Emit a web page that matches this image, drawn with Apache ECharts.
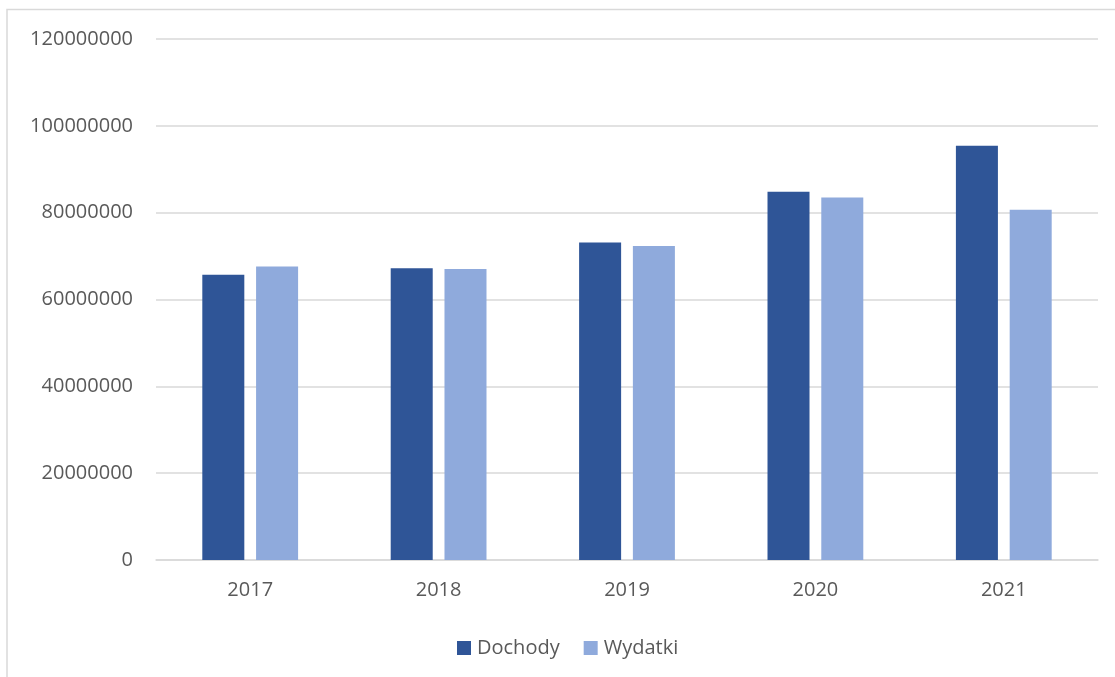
<!DOCTYPE html>
<html>
<head>
<meta charset="utf-8">
<script src="https://cdn.jsdelivr.net/npm/echarts@6/dist/echarts.min.js"></script>
<style>
html,body{margin:0;padding:0;background:#fff;}
#chart{width:1115px;height:677px;}
</style>
</head>
<body>
<div id="chart"></div>
<script>
const categories = ['2017', '2018', '2019', '2020', '2021'];
const dochody = [65700000, 67200000, 73100000, 84800000, 95400000];
const wydatki = [67600000, 67000000, 72300000, 83500000, 80700000];
const seriesNames = ['Dochody', 'Wydatki'];

const font = 'Open Sans';
const txt = '#595959';
const chart = echarts.init(document.getElementById('chart'), null, {renderer: 'canvas'});
chart.setOption({
  animation: false,
  backgroundColor: '#fff',
  graphic: [{
    type: 'rect',
    shape: {x: 7, y: 9.5, width: 1300, height: 900},
    style: {fill: 'none', stroke: '#d9d9d9', lineWidth: 1.5},
    silent: true, z: -1
  }],
  grid: {left: 156, right: 17, top: 39, bottom: 117, containLabel: false},
  legend: {
    data: seriesNames,
    left: 452, top: 633,
    itemWidth: 14, itemHeight: 14, itemGap: 24,
    icon: 'rect',
    textStyle: {color: txt, fontFamily: font, fontSize: 20, padding: [0, 0, 0, 1]}
  },
  xAxis: {
    type: 'category',
    data: categories,
    axisLine: {lineStyle: {color: '#d9d9d9', width: 1.5}},
    axisTick: {show: false},
    axisLabel: {color: txt, fontFamily: font, fontSize: 20, margin: 20}
  },
  yAxis: {
    type: 'value',
    min: 0, max: 120000000, interval: 20000000,
    axisLine: {show: false},
    axisTick: {show: false},
    splitLine: {lineStyle: {color: '#d9d9d9', width: 1.5}},
    axisLabel: {color: txt, fontFamily: font, fontSize: 20, margin: 23,
      formatter: function (v) { return String(v); }}
  },
  series: [
    {name: seriesNames[0], type: 'bar', data: dochody, barWidth: '22.3%', barGap: '28%',
     itemStyle: {color: '#2F5597'}},
    {name: seriesNames[1], type: 'bar', data: wydatki, barWidth: '22.3%', barGap: '28%',
     itemStyle: {color: '#8FAADC'}}
  ]
});
</script>
</body>
</html>
